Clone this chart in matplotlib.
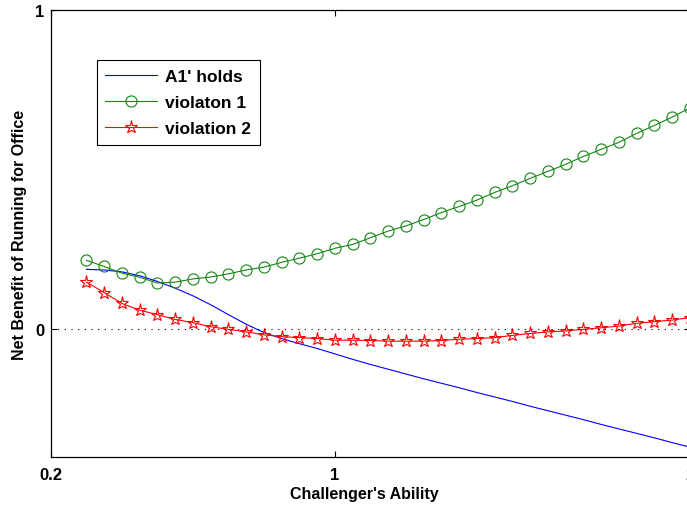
import matplotlib
matplotlib.use('Agg')
import matplotlib.pyplot as plt
import numpy as np

plt.rcParams['font.family'] = ['Liberation Sans', 'DejaVu Sans']
plt.rcParams['font.weight'] = 'bold'

# challenger's ability, 0.30 ... 2.00 in steps of 0.05
ability = [0.30, 0.35, 0.40, 0.45, 0.50, 0.55, 0.60, 0.65, 0.70, 0.75,
           0.80, 0.85, 0.90, 0.95, 1.00, 1.05, 1.10, 1.15, 1.20, 1.25,
           1.30, 1.35, 1.40, 1.45, 1.50, 1.55, 1.60, 1.65, 1.70, 1.75,
           1.80, 1.85, 1.90, 1.95, 2.00]

a1_holds = [0.188, 0.186, 0.180, 0.168, 0.150, 0.129, 0.105, 0.077, 0.046, 0.016,
            -0.010, -0.029, -0.045, -0.060, -0.077, -0.094, -0.110, -0.125, -0.140, -0.155,
            -0.169, -0.183, -0.198, -0.212, -0.226, -0.241, -0.255, -0.269, -0.283, -0.298,
            -0.312, -0.326, -0.340, -0.355, -0.369]

violation1 = [0.216, 0.197, 0.176, 0.163, 0.145, 0.148, 0.158, 0.164, 0.174, 0.186,
              0.195, 0.210, 0.223, 0.237, 0.254, 0.266, 0.287, 0.308, 0.324, 0.344,
              0.366, 0.385, 0.405, 0.429, 0.450, 0.473, 0.495, 0.517, 0.542, 0.564,
              0.586, 0.614, 0.639, 0.665, 0.694]

violation2 = [0.148, 0.115, 0.081, 0.060, 0.046, 0.031, 0.021, 0.008, 0.000, -0.008,
              -0.017, -0.023, -0.026, -0.029, -0.034, -0.034, -0.035, -0.037, -0.037, -0.037,
              -0.035, -0.031, -0.029, -0.026, -0.019, -0.013, -0.008, -0.005, 0.000, 0.005,
              0.010, 0.019, 0.024, 0.029, 0.037]

fig = plt.figure(figsize=(6.87, 5.10), dpi=100)
ax = fig.add_axes([0.0742, 0.102, 0.930, 0.876])

ax.plot(ability, a1_holds, color='#0000ff', lw=0.8, label="A1' holds")
ax.plot(ability, violation1, color='#158515', lw=0.8, marker='o', ms=8,
        mfc='none', mec='#158515', mew=0.8, label='violaton 1')
ax.plot(ability, violation2, color='#ff0000', lw=0.8, marker='*', ms=9.5,
        mfc='none', mec='#ff0000', mew=0.8, label='violation 2')
ax.axhline(0, color='k', lw=0.8, dashes=(1, 5))

ax.set_xlim(0.2, 2)
ax.set_ylim(-0.4, 1)
ax.set_xticks([0.2, 1, 2])
ax.set_xticklabels(['0.2', '1', '2'])
ax.set_yticks([0, 1])
ax.tick_params(direction='in', length=4, width=0.8, labelsize=12, top=True, right=True)
ax.tick_params(axis='x', pad=7.5)
ax.tick_params(axis='y', pad=5)
for lab in ax.get_xticklabels() + ax.get_yticklabels():
    lab.set_fontweight('bold')
for s in ax.spines.values():
    s.set_linewidth(0.9)

ax.set_xlabel("Challenger's Ability", fontsize=11.5, fontweight='bold')
ax.set_ylabel('Net Benefit of Running for Office', fontsize=11.5, fontweight='bold')
ax.xaxis.set_label_coords(0.491, -0.064)
ax.yaxis.set_label_coords(-0.037, 0.5)

leg = ax.legend(loc='upper left', bbox_to_anchor=(0.0715, 0.888), fancybox=False,
                framealpha=1, edgecolor='k', fontsize=12.5, handlelength=3.0,
                borderpad=0.5, labelspacing=0.62, handletextpad=0.45,
                borderaxespad=0)
leg.get_frame().set_linewidth(0.8)
for t in leg.get_texts():
    t.set_fontweight('bold')

fig.savefig('out.png', dpi=100)
